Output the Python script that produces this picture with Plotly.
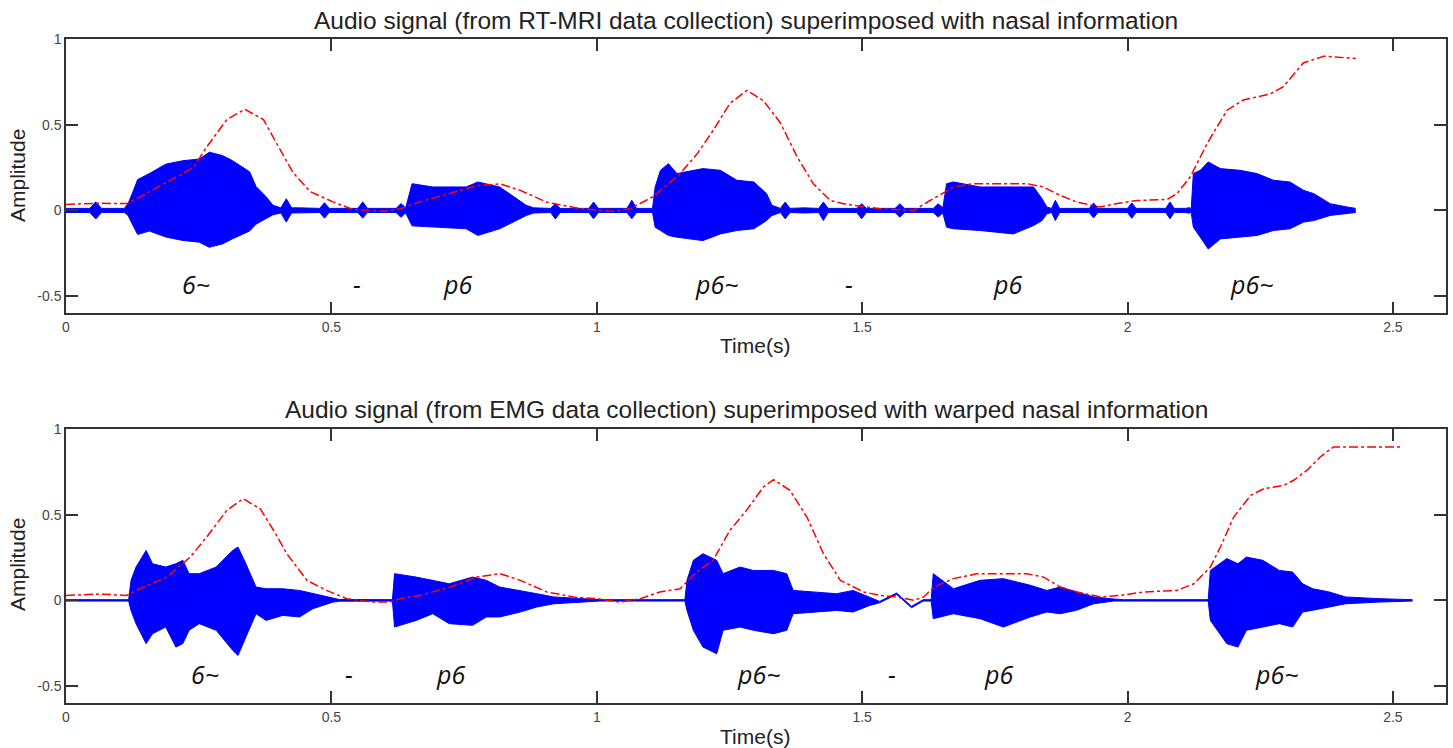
import plotly.graph_objects as go
from plotly.subplots import make_subplots

# ---------------- data ----------------
# Top panel: audio envelope (RT-MRI session)
top_t = [0, 0.045, 0.056, 0.067, 0.11, 0.117, 0.125, 0.135, 0.157, 0.188, 0.22, 0.251, 0.27, 0.295,
         0.314, 0.346, 0.358, 0.377, 0.39, 0.405, 0.415, 0.425, 0.44, 0.478, 0.487, 0.496, 0.55, 0.559,
         0.568, 0.622, 0.631, 0.64, 0.652, 0.691, 0.754, 0.776, 0.817, 0.854, 0.867, 0.881, 0.913, 0.922,
         0.931, 0.985, 0.994, 1.003, 1.057, 1.066, 1.075, 1.105, 1.11, 1.12, 1.135, 1.151, 1.182, 1.2,
         1.233, 1.264, 1.296, 1.32, 1.33, 1.346, 1.355, 1.364, 1.39, 1.418, 1.427, 1.436, 1.49, 1.499,
         1.508, 1.562, 1.571, 1.58, 1.634, 1.643, 1.652, 1.659, 1.672, 1.722, 1.785, 1.823, 1.839, 1.848,
         1.857, 1.864, 1.872, 1.928, 1.936, 1.944, 2.0, 2.008, 2.016, 2.072, 2.08, 2.088, 2.11, 2.115,
         2.12, 2.124, 2.137, 2.152, 2.175, 2.212, 2.244, 2.275, 2.306, 2.332, 2.351, 2.382, 2.414, 2.43]
top_upper = [0.012, 0.012, 0.05, 0.012, 0.012, 0.04, 0.1, 0.18, 0.215, 0.27, 0.29, 0.30, 0.34, 0.32,
             0.29, 0.225, 0.14, 0.08, 0.03, 0.015, 0.068, 0.015, 0.015, 0.012, 0.045, 0.012, 0.012, 0.05,
             0.012, 0.012, 0.04, 0.015, 0.156, 0.137, 0.137, 0.166, 0.137, 0.06, 0.03, 0.015, 0.012, 0.04,
             0.012, 0.012, 0.049, 0.012, 0.012, 0.059, 0.012, 0.012, 0.137, 0.234, 0.273, 0.215, 0.234, 0.244,
             0.234, 0.176, 0.166, 0.098, 0.03, 0.012, 0.049, 0.012, 0.015, 0.012, 0.049, 0.012, 0.012, 0.039,
             0.012, 0.012, 0.039, 0.012, 0.012, 0.039, 0.015, 0.156, 0.166, 0.137, 0.137, 0.137, 0.068, 0.02,
             0.012, 0.059, 0.012, 0.012, 0.044, 0.012, 0.012, 0.044, 0.012, 0.012, 0.049, 0.012, 0.012, 0.016,
             0.012, 0.215, 0.234, 0.283, 0.244, 0.234, 0.215, 0.176, 0.166, 0.117, 0.098, 0.039, 0.02, 0.012]
top_lower = [-0.012, -0.012, -0.05, -0.012, -0.012, -0.03, -0.08, -0.14, -0.12, -0.155, -0.175, -0.185, -0.215, -0.195,
             -0.165, -0.12, -0.08, -0.05, -0.025, -0.015, -0.068, -0.015, -0.015, -0.012, -0.045, -0.012, -0.012, -0.045,
             -0.012, -0.012, -0.04, -0.015, -0.09, -0.098, -0.107, -0.146, -0.107, -0.05, -0.03, -0.015, -0.012, -0.05,
             -0.012, -0.012, -0.049, -0.012, -0.012, -0.049, -0.012, -0.012, -0.098, -0.117, -0.146, -0.156, -0.166, -0.176,
             -0.137, -0.117, -0.107, -0.059, -0.03, -0.012, -0.049, -0.012, -0.015, -0.012, -0.059, -0.012, -0.012, -0.049,
             -0.012, -0.012, -0.039, -0.012, -0.012, -0.039, -0.015, -0.098, -0.107, -0.117, -0.137, -0.088, -0.059, -0.02,
             -0.012, -0.059, -0.012, -0.012, -0.044, -0.012, -0.012, -0.046, -0.012, -0.012, -0.049, -0.012, -0.012, -0.016,
             -0.012, -0.098, -0.156, -0.225, -0.166, -0.156, -0.146, -0.117, -0.107, -0.068, -0.059, -0.029, -0.02, -0.012]

# Top panel: nasal information
top_nasal_t = [0, 0.058, 0.115, 0.14, 0.19, 0.24, 0.265, 0.303, 0.337, 0.372, 0.397, 0.428, 0.46, 0.503,
               0.541, 0.598, 0.63, 0.667, 0.724, 0.774, 0.818, 0.856, 0.906, 0.969, 1.031, 1.063, 1.106,
               1.157, 1.189, 1.22, 1.251, 1.283, 1.314, 1.346, 1.378, 1.408, 1.44, 1.471, 1.534, 1.597,
               1.628, 1.672, 1.71, 1.741, 1.811, 1.841, 1.873, 1.905, 1.949, 1.98, 2.018, 2.075, 2.093,
               2.118, 2.15, 2.169, 2.188, 2.218, 2.269, 2.293, 2.331, 2.37, 2.395, 2.43]
top_nasal = [0.035, 0.042, 0.04, 0.08, 0.165, 0.25, 0.37, 0.53, 0.59, 0.53, 0.39, 0.22, 0.11, 0.05,
             0.005, -0.005, 0.01, 0.05, 0.1, 0.145, 0.155, 0.117, 0.048, 0.01, -0.005, 0.01, 0.08,
             0.215, 0.33, 0.47, 0.625, 0.70, 0.64, 0.51, 0.31, 0.156, 0.058, 0.035, 0.01, 0.0,
             0.058, 0.136, 0.156, 0.156, 0.156, 0.137, 0.088, 0.048, 0.02, 0.04, 0.058, 0.064, 0.098,
             0.195, 0.39, 0.49, 0.586, 0.644, 0.68, 0.72, 0.86, 0.9, 0.895, 0.886]

# Bottom panel: audio envelope (EMG session)
bot_t = [0, 0.118, 0.1225, 0.132, 0.151, 0.163, 0.188, 0.207, 0.22, 0.232, 0.251, 0.283, 0.314, 0.324,
         0.339, 0.358, 0.377, 0.408, 0.44, 0.465, 0.503, 0.515, 0.615, 0.619, 0.66, 0.691, 0.722, 0.766,
         0.792, 0.817, 0.856, 0.887, 0.919, 0.981, 1.006, 1.166, 1.17, 1.182, 1.2, 1.226, 1.238, 1.27,
         1.295, 1.333, 1.358, 1.37, 1.408, 1.452, 1.483, 1.514, 1.533, 1.565, 1.593, 1.615, 1.63, 1.634,
         1.672, 1.722, 1.766, 1.817, 1.848, 1.873, 1.904, 1.936, 1.974, 1.993, 2.152, 2.156, 2.187, 2.208,
         2.224, 2.255, 2.286, 2.311, 2.33, 2.349, 2.38, 2.411, 2.474, 2.537]
bot_upper = [0.004, 0.004, 0.117, 0.195, 0.292, 0.214, 0.195, 0.214, 0.234, 0.156, 0.156, 0.195, 0.292, 0.312,
             0.214, 0.078, 0.068, 0.068, 0.058, 0.039, 0.01, 0.005, 0.004, 0.156, 0.136, 0.117, 0.097, 0.136,
             0.117, 0.078, 0.058, 0.039, 0.02, 0.01, 0.004, 0.004, 0.117, 0.234, 0.273, 0.234, 0.156, 0.195,
             0.175, 0.175, 0.156, 0.058, 0.049, 0.039, 0.058, 0.02, -0.006, 0.043, -0.035, 0.004, 0.004, 0.156,
             0.068, 0.117, 0.127, 0.088, 0.058, 0.078, 0.049, 0.02, 0.008, 0.004, 0.004, 0.175, 0.244, 0.214,
             0.253, 0.234, 0.175, 0.166, 0.097, 0.068, 0.049, 0.02, 0.01, 0.004]
bot_lower = [-0.004, -0.004, -0.059, -0.137, -0.253, -0.195, -0.156, -0.273, -0.253, -0.175, -0.136, -0.175, -0.292, -0.322,
             -0.214, -0.078, -0.117, -0.088, -0.097, -0.049, -0.01, -0.005, -0.004, -0.156, -0.117, -0.078, -0.136, -0.146,
             -0.097, -0.097, -0.068, -0.039, -0.02, -0.01, -0.004, -0.004, -0.059, -0.175, -0.273, -0.312, -0.175, -0.156,
             -0.175, -0.195, -0.175, -0.078, -0.068, -0.059, -0.068, -0.03, -0.014, 0.035, -0.043, -0.004, -0.004, -0.107,
             -0.078, -0.107, -0.156, -0.097, -0.068, -0.078, -0.058, -0.02, -0.004, -0.004, -0.004, -0.117, -0.253, -0.273,
             -0.175, -0.156, -0.136, -0.156, -0.068, -0.058, -0.039, -0.02, -0.01, -0.004]

# Bottom panel: warped nasal information
bot_nasal_t = [0, 0.064, 0.114, 0.139, 0.19, 0.234, 0.265, 0.303, 0.334, 0.366, 0.391, 0.416, 0.454, 0.491,
               0.529, 0.579, 0.611, 0.63, 0.667, 0.724, 0.774, 0.818, 0.856, 0.906, 0.956, 1.0, 1.044,
               1.082, 1.119, 1.157, 1.188, 1.219, 1.251, 1.282, 1.314, 1.333, 1.364, 1.396, 1.427, 1.459,
               1.503, 1.534, 1.565, 1.597, 1.616, 1.635, 1.672, 1.716, 1.81, 1.842, 1.873, 1.905, 1.949,
               1.987, 2.03, 2.093, 2.125, 2.156, 2.175, 2.2, 2.232, 2.257, 2.294, 2.313, 2.338, 2.363,
               2.388, 2.438, 2.514]
bot_nasal = [0.029, 0.037, 0.029, 0.068, 0.136, 0.253, 0.37, 0.526, 0.594, 0.535, 0.41, 0.273, 0.117, 0.058,
             0.01, -0.01, -0.01, 0.01, 0.029, 0.078, 0.136, 0.156, 0.117, 0.049, 0.02, 0.01, -0.01,
             0.01, 0.049, 0.068, 0.166, 0.234, 0.41, 0.526, 0.663, 0.706, 0.643, 0.487, 0.273, 0.117,
             0.049, 0.029, 0.02, 0.0, 0.02, 0.078, 0.127, 0.156, 0.156, 0.136, 0.078, 0.049, 0.02,
             0.029, 0.049, 0.058, 0.097, 0.195, 0.312, 0.487, 0.614, 0.653, 0.672, 0.702, 0.76, 0.838,
             0.897, 0.897, 0.897]

# Segment labels
top_lbl_text = ["6~", "-", "p6", "p6~", "-", "p6", "p6~"]
top_lbl_t = [0.245, 0.548, 0.737, 1.227, 1.476, 1.774, 2.235]
bot_lbl_text = ["6~", "-", "p6", "p6~", "-", "p6", "p6~"]
bot_lbl_t = [0.262, 0.533, 0.724, 1.306, 1.557, 1.757, 2.282]
lbl_y = -0.43

titles = ["Audio signal (from RT-MRI data collection) superimposed with nasal information",
          "Audio signal (from EMG data collection) superimposed with warped nasal information"]
x_ticks = [0, 0.5, 1, 1.5, 2, 2.5]
x_ticklabels = ["0", "0.5", "1", "1.5", "2", "2.5"]
y_ticks = [-0.5, 0, 0.5, 1]
y_ticklabels = ["-0.5", "0", "0.5", "1"]

# ---------------- figure ----------------
W, H = 1453, 748
ML, MR, MT, MB = 66, 7, 39, 45
fig = make_subplots(rows=2, cols=1)

BLUE = "#0000ff"
RED = "#ff0000"
panels = [(top_t, top_upper, top_lower, top_nasal_t, top_nasal),
          (bot_t, bot_upper, bot_lower, bot_nasal_t, bot_nasal)]
for i, (t, up, lo, nt, nv) in enumerate(panels, start=1):
    fig.add_trace(go.Scatter(x=t, y=lo, mode="lines", line=dict(color=BLUE, width=1),
                             showlegend=False, hoverinfo="skip"), row=i, col=1)
    fig.add_trace(go.Scatter(x=t, y=up, mode="lines", line=dict(color=BLUE, width=1),
                             fill="tonexty", fillcolor=BLUE, showlegend=False, hoverinfo="skip"),
                  row=i, col=1)
    fig.add_trace(go.Scatter(x=nt, y=nv, mode="lines", line=dict(color=RED, width=1.5, dash="dashdot"),
                             showlegend=False, hoverinfo="skip"), row=i, col=1)

axis_common = dict(showline=True, linecolor="#333333", linewidth=1.5, mirror="allticks",
                   ticks="inside", ticklen=12, tickwidth=1.5, tickcolor="#333333",
                   showgrid=False, zeroline=False, automargin=False,
                   tickfont=dict(family="Liberation Sans, Arial", size=14, color="#444444"))

plot_h = H - MT - MB
top_dom = [(H - MB - 313.3) / plot_h, 1.0]
bot_dom = [0.0, (H - MB - 429.3) / plot_h]

for i, dom in zip([1, 2], [top_dom, bot_dom]):
    fig.update_xaxes(range=[0, 2.6], tickvals=x_ticks, ticktext=x_ticklabels, **axis_common, row=i, col=1)
    fig.update_yaxes(range=[-0.6, 1], tickvals=y_ticks, ticktext=y_ticklabels, domain=dom,
                     **axis_common, row=i, col=1)

annotations = []
title_font = dict(family="Liberation Sans, Arial", size=24.5, color="#222222")
axis_title_font = dict(family="Liberation Sans, Arial", size=21, color="#222222")
# panel titles
for title, ypix in zip(titles, [20, 409]):
    annotations.append(dict(text=title, x=(746 - ML) / (W - ML - MR), xref="paper",
                            y=(H - MB - ypix) / plot_h, yref="paper",
                            showarrow=False, font=title_font, xanchor="center", yanchor="middle"))
# x axis titles
for ypix in [345, 736]:
    annotations.append(dict(text="Time(s)", x=(755 - ML) / (W - ML - MR), xref="paper",
                            y=(H - MB - ypix) / plot_h, yref="paper", showarrow=False,
                            font=axis_title_font, xanchor="center", yanchor="middle"))
# y axis titles
for ypix in [176, 565]:
    annotations.append(dict(text="Amplitude", x=(17 - ML) / (W - ML - MR), xref="paper",
                            y=(H - MB - ypix) / plot_h, yref="paper", showarrow=False, textangle=-90,
                            font=axis_title_font, xanchor="center", yanchor="middle"))
# segment labels
lbl_font = dict(family="Open Sans, Noto Sans, DejaVu Sans", size=25, color="#111111")
for (xr, yr), texts, ts in [(("x", "y"), top_lbl_text, top_lbl_t), (("x2", "y2"), bot_lbl_text, bot_lbl_t)]:
    for txt, tt in zip(texts, ts):
        annotations.append(dict(text="<i>" + txt + "</i>", x=tt, y=lbl_y, xref=xr, yref=yr,
                                showarrow=False, font=lbl_font, xanchor="center", yanchor="middle"))

fig.update_layout(width=W, height=H, margin=dict(l=ML, r=MR, t=MT, b=MB, autoexpand=False),
                  paper_bgcolor="white", plot_bgcolor="white", annotations=annotations,
                  showlegend=False)

fig.write_html("out.html", config={"displayModeBar": False},
               post_script="document.body.style.margin='0px';document.body.style.overflow='hidden';")
